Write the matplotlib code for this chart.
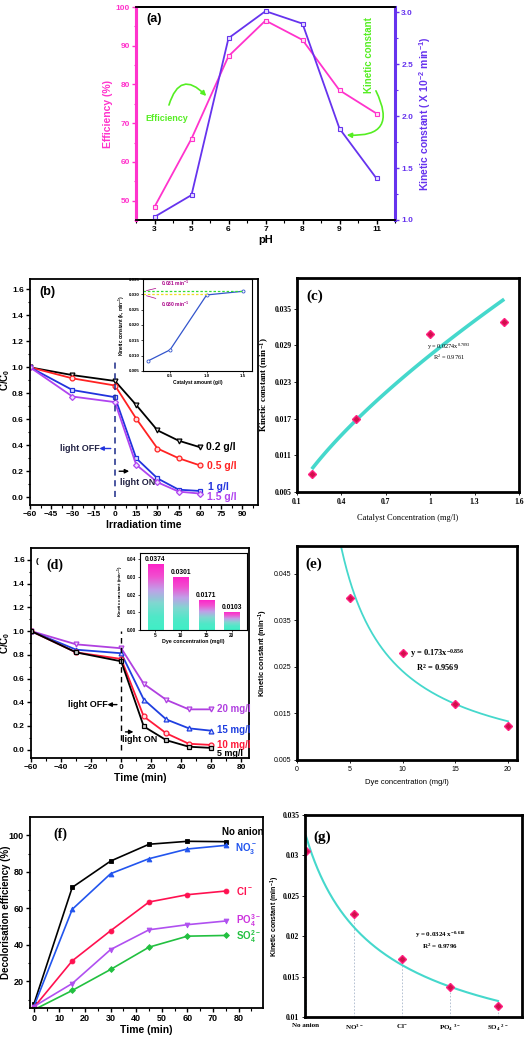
import numpy as np
import matplotlib
matplotlib.use("Agg")
import matplotlib.pyplot as plt
from matplotlib.colors import LinearSegmentedColormap

# ---- data ----
# (a) effect of pH
ph_labels = ["3", "5", "6", "7", "8", "9", "11"]
ph_eff = [48.4, 66.0, 87.3, 96.5, 91.5, 78.5, 72.5]
ph_k = [1.03, 1.24, 2.75, 3.01, 2.89, 1.88, 1.40]

# (b) catalyst amount, C/C0 vs irradiation time
t_b = [-60, -30, 0, 15, 30, 45, 60]
cat_02 = [1.0, 0.94, 0.895, 0.71, 0.515, 0.435, 0.385]
cat_05 = [1.0, 0.915, 0.86, 0.605, 0.375, 0.30, 0.245]
cat_10 = [1.0, 0.825, 0.77, 0.30, 0.145, 0.058, 0.048]
cat_15 = [1.0, 0.775, 0.732, 0.25, 0.115, 0.043, 0.028]
cat_amount = [0.2, 0.5, 1.0, 1.5]
k_cat_inset = [0.0083, 0.0119, 0.0298, 0.031]

# (c) kinetic constant vs catalyst concentration
k_cat = [0.0079, 0.0169, 0.0308, 0.0328]
fit_c = (0.0274, 0.7093)

# (d) dye concentration, C/C0 vs time
t_d = [-60, -30, 0, 15, 30, 45, 60]
dye_20 = [1.0, 0.888, 0.855, 0.555, 0.42, 0.34, 0.34]
dye_15 = [1.0, 0.843, 0.813, 0.423, 0.255, 0.18, 0.16]
dye_10 = [1.0, 0.82, 0.765, 0.28, 0.138, 0.05, 0.04]
dye_5 = [1.0, 0.82, 0.745, 0.196, 0.08, 0.025, 0.015]
dye_conc = [5, 10, 15, 20]
k_dye = [0.0374, 0.0301, 0.0171, 0.0103]

# (e) kinetic constant vs dye concentration
k_dye_e = [0.0399, 0.0279, 0.0171, 0.0124]
fit_e = (0.173, -0.856)

# (f) anions, decolorisation efficiency vs time
t_f = [0, 15, 30, 45, 60, 75]
no_anion = [7.6, 71.5, 85.9, 95.1, 96.7, 96.5]
no3 = [6.3, 59.5, 79.0, 87.2, 92.5, 94.5]
cl = [5.8, 31.3, 47.8, 63.5, 67.5, 69.5]
po4 = [6.3, 18.9, 37.5, 48.3, 51.1, 53.1]
so4 = [4.5, 15.1, 26.6, 38.8, 44.8, 45.2]

# (g) kinetic constant per anion
anion_labels = ["No anion", "NO$^{3-}$", "Cl$^{-}$", "PO$_4$ $^{3-}$", "SO$_4$ $^{2-}$"]
k_anion = [0.0306, 0.0227, 0.0172, 0.0137, 0.0113]
fit_g = (0.0324, -0.618)

W, H = 525, 1039
plt.rcParams["font.family"] = ["Liberation Sans", "DejaVu Sans"]
plt.rcParams["font.weight"] = "bold"
plt.rcParams["axes.labelweight"] = "bold"
plt.rcParams["mathtext.default"] = "regular"

fig = plt.figure(figsize=(W / 100, H / 100), dpi=100)

SERIF = ["Liberation Serif", "DejaVu Serif"]
NARROW = ["Liberation Sans Narrow", "Liberation Sans", "DejaVu Sans"]


def box(l, t, r, b):
    return [l / W, 1 - b / H, (r - l) / W, (b - t) / H]


def origin_style(ax, fs=6.5):
    ax.tick_params(direction="out", length=3, width=1, labelsize=fs, pad=1.5)
    ax.tick_params(which="minor", direction="out", length=1.8, width=0.8)
    for s in ax.spines.values():
        s.set_linewidth(1.3)


def excel_style(ax):
    for s in ax.spines.values():
        s.set_linewidth(2.0)
    ax.tick_params(direction="out", length=2, width=0.6, labelsize=5.5, pad=2)
    for lab in ax.get_xticklabels() + ax.get_yticklabels():
        lab.set_family(SERIF)
        lab.set_fontweight("bold")


# ================= (a) =================
pink = "#FF33CC"
violet = "#6633EE"
axa = fig.add_axes(box(136, 7, 395, 220))
xa = np.arange(len(ph_labels))
axa.plot(xa, ph_eff, color=pink, lw=1.3, marker="s", ms=3.5, mfc="#FFE0F4", mec=pink, mew=0.8)
axa.set_xlim(-0.5, 6.5)
axa.set_ylim(45, 100)
axa.set_xticks(xa)
axa.set_xticklabels(ph_labels)
axa.set_xticks(np.arange(-0.5, 6.6, 0.5), minor=True)
axa.set_yticks([50, 60, 70, 80, 90, 100])
axa.set_yticks(np.arange(45, 101, 5), minor=True)
origin_style(axa, 6)
axa.tick_params(axis="y", colors=pink, which="both")
axa.spines["left"].set_color(pink)
axa.spines["left"].set_linewidth(2.2)
axa.set_ylabel("Efficiency (%)", color=pink, fontsize=7.5, labelpad=2)
axa.set_xlabel("pH", fontsize=8, labelpad=1)
axa.text(0.04, 0.93, "(a)", transform=axa.transAxes, fontsize=9, fontweight="bold")

axa2 = axa.twinx()
axa2.plot(xa, ph_k, color=violet, lw=1.3, marker="s", ms=3.5, mfc="#E6E0FF", mec=violet, mew=0.8)
axa2.set_ylim(1.0, 3.05)
axa2.set_yticks([1.0, 1.5, 2.0, 2.5, 3.0])
axa2.set_yticks(np.arange(1.0, 3.05, 0.25), minor=True)
origin_style(axa2, 6)
axa2.tick_params(axis="y", colors=violet, which="both")
axa2.spines["right"].set_color(violet)
axa2.spines["right"].set_linewidth(2.2)
axa2.spines["left"].set_color(pink)
axa2.spines["left"].set_linewidth(2.2)
axa2.set_ylabel("Kinetic constant ( X 10$^{-2}$ min$^{-1}$)", color=violet, fontsize=7.5, labelpad=3)

green = "#55EE22"
axa.text(0.32, 71.2, "Efficiency", color=green, fontsize=6.5, fontweight="bold", ha="center", va="center")
axa.annotate("", xy=(1.45, 76.5), xytext=(0.37, 74.0),
             arrowprops=dict(arrowstyle="-|>", color=green, lw=1.2, connectionstyle="arc3,rad=-0.9",
                             mutation_scale=7))
axa.text(5.8, 87.5, "Kinetic constant", color=green, fontsize=7, fontweight="bold", rotation=90,
         ha="center", va="center")
axa.annotate("", xy=(5.12, 67.0), xytext=(5.95, 79.0),
             arrowprops=dict(arrowstyle="-|>", color=green, lw=1.2, connectionstyle="arc3,rad=-0.9",
                             mutation_scale=7))

# ================= (b) =================
axb = fig.add_axes(box(30, 279, 258, 505))
blk, red, blu, pur = "black", "#FF2222", "#2233DD", "#B044F0"
mk = dict(ms=3.5, mew=0.9, lw=1.3)
axb.plot(t_b, cat_02, color=blk, marker="v", mfc="#DDDDDD", **mk)
axb.plot(t_b, cat_05, color=red, marker="o", mfc="#FFDDDD", **mk)
axb.plot(t_b, cat_10, color=blu, marker="s", mfc="#DDE0FF", **mk)
axb.plot(t_b, cat_15, color=pur, marker="D", mfc="#EEDDFF", ms=3, mew=0.9, lw=1.3)
axb.set_xlim(-60, 101)
axb.set_ylim(-0.06, 1.68)
axb.set_xticks(np.arange(-60, 91, 15))
axb.set_yticks(np.arange(0, 1.61, 0.2))
axb.set_yticklabels(["%.1f" % v for v in np.arange(0, 1.61, 0.2)])
axb.set_xticks(np.arange(-60, 101, 7.5), minor=True)
axb.set_yticks(np.arange(0, 1.7, 0.1), minor=True)
origin_style(axb, 6)
axb.set_xlabel("Irradiation time", fontsize=7.5, labelpad=1)
axb.set_ylabel("C/C$_0$", fontsize=7)
axb.yaxis.set_label_coords(-0.077, 0.555)
axb.text(0.04, 0.93, "(b)", transform=axb.transAxes, fontsize=9, fontweight="bold")
axb.plot([0, 0], [0, 1.07], color="#1A2A88", lw=1.1, ls=(0, (4, 3)))
axb.text(64, 0.39, "0.2 g/l", color=blk, fontsize=7.5, fontweight="bold", va="center")
axb.text(65, 0.24, "0.5 g/l", color=red, fontsize=7.5, fontweight="bold", va="center")
axb.text(66, 0.08, "1 g/l", color=blu, fontsize=7.5, fontweight="bold", va="center")
axb.text(65, 0.005, "1.5 g/l", color=pur, fontsize=7.5, fontweight="bold", va="center")
axb.text(-25, 0.375, "light OFF", fontsize=6.5, fontweight="bold", ha="center", va="center", color="#222244")
axb.annotate("", xy=(-13, 0.375), xytext=(-1, 0.375),
             arrowprops=dict(arrowstyle="-|>", color=blu, lw=1, mutation_scale=6))
axb.text(16, 0.115, "light ON", fontsize=6.5, fontweight="bold", ha="center", va="center", color="#222244")
axb.annotate("", xy=(12, 0.2), xytext=(1, 0.2),
             arrowprops=dict(arrowstyle="-|>", color=blk, lw=1, mutation_scale=6))

# inset of (b)
axbi = fig.add_axes(box(143, 279, 252, 371))
axbi.plot(cat_amount, k_cat_inset, color="#3355CC", lw=0.9, marker="o", ms=2.2, mfc="white", mew=0.6)
axbi.set_xlim(0.13, 1.62)
axbi.set_ylim(0.005, 0.035)
axbi.set_xticks([0.5, 1.0, 1.5])
axbi.set_yticks(np.arange(0.005, 0.0351, 0.005))
axbi.set_yticklabels(["%.3f" % v for v in np.arange(0.005, 0.0351, 0.005)])
axbi.tick_params(labelsize=3.2, length=1.5, width=0.5, pad=1)
for s in axbi.spines.values():
    s.set_linewidth(0.8)
axbi.set_xlabel("Catalyst amount (g/l)", fontsize=3.6, labelpad=1)
axbi.set_ylabel("Kinetic constant (k, min$^{-1}$)", fontsize=3.4, labelpad=1)
axbi.plot([0.13, 1.5], [0.031, 0.031], color="#33DD33", lw=0.9, ls=(0, (2, 1.5)))
axbi.plot([0.13, 1.0], [0.0302, 0.0302], color="#EEDD22", lw=0.9, ls=(0, (2, 1.5)))
axbi.annotate("0.031 min$^{-1}$", xy=(0.14, 0.031), xytext=(0.38, 0.0335), fontsize=3.6,
              color="#AA0088", va="center",
              arrowprops=dict(arrowstyle="-", color="#AA0088", lw=0.5))
axbi.annotate("0.030 min$^{-1}$", xy=(0.14, 0.0298), xytext=(0.38, 0.0268), fontsize=3.6,
              color="#AA0088", va="center",
              arrowprops=dict(arrowstyle="-", color="#AA0088", lw=0.5))

# ================= (c) =================
cyan = "#45D8CC"
dmd = dict(marker="D", ms=3.8, color="#D0104A", mec="#FF2080", ls="none")
axc = fig.add_axes(box(297, 278, 519, 492))
xc = np.linspace(cat_amount[0], cat_amount[-1], 100)
axc.plot(xc, fit_c[0] * xc ** fit_c[1], color=cyan, lw=2.6, solid_capstyle="butt")
axc.plot(cat_amount, k_cat, **dmd)
axc.set_xlim(0.1, 1.6)
axc.set_ylim(0.005, 0.040)
axc.set_xticks([0.1, 0.4, 0.7, 1.0, 1.3, 1.6])
axc.set_xticklabels(["0.1", "0.4", "0.7", "1", "1.3", "1.6"])
axc.set_yticks(np.arange(0.005, 0.036, 0.006))
axc.set_yticklabels(["%.3f" % v for v in np.arange(0.005, 0.036, 0.006)])
excel_style(axc)
axc.set_xlabel("Catalyst Concentration (mg/l)", fontsize=6, family=SERIF, labelpad=6, fontweight="normal")
axc.set_ylabel("Kinetic constant (min$^{-1}$)", fontsize=6.5, family=SERIF)
axc.yaxis.set_label_coords(-0.115, 0.5)
axc.text(0.04, 0.9, "(c)", transform=axc.transAxes, fontsize=11, fontweight="bold", family=SERIF)
axc.text(1.13, 0.0279, "y = 0.0274x$^{0.7093}$\nR$^2$ = 0.9761", fontsize=4.5, family=SERIF,
         ha="center", va="center", fontweight="normal")

# ================= (d) =================
axd = fig.add_axes(box(31, 548, 249, 758))
c20, c15, c10 = "#B040E0", "#1F3FE0", "#FF1A3A"
axd.plot(t_d, dye_20, color=c20, marker="v", mfc="#F0DDFF", **mk)
axd.plot(t_d, dye_15, color=c15, marker="^", mfc="#DDE0FF", **mk)
axd.plot(t_d, dye_10, color=c10, marker="o", mfc="#FFDDDD", **mk)
axd.plot(t_d, dye_5, color=blk, marker="s", mfc="#CCCCCC", **mk)
axd.set_xlim(-60, 85)
axd.set_ylim(-0.07, 1.7)
axd.set_xticks(np.arange(-60, 81, 20))
axd.set_xticks(np.arange(-60, 85, 10), minor=True)
axd.set_yticks(np.arange(0, 1.61, 0.2))
axd.set_yticklabels(["%.1f" % v for v in np.arange(0, 1.61, 0.2)])
axd.set_yticks(np.arange(0, 1.7, 0.1), minor=True)
origin_style(axd, 6)
axd.set_xlabel("Time (min)", fontsize=7.5, labelpad=1)
axd.set_ylabel("C/C$_0$", fontsize=7)
axd.yaxis.set_label_coords(-0.085, 0.548)
axd.text(0.02, 0.93, "(", transform=axd.transAxes, fontsize=6)
axd.text(0.07, 0.9, "(d)", transform=axd.transAxes, fontsize=10, fontweight="bold", family=SERIF)
axd.plot([0, 0], [0, 1.0], color="black", lw=1.0, ls=(0, (4, 3)))
axd.text(64, 0.34, "20 mg/l", color=c20, fontsize=7, fontweight="bold", va="center")
axd.text(64, 0.165, "15 mg/l", color=c15, fontsize=7, fontweight="bold", va="center")
axd.text(64, 0.04, "10 mg/l", color=c10, fontsize=7, fontweight="bold", va="center")
axd.text(64, -0.035, "5 mg/l", color=blk, fontsize=6.5, fontweight="bold", va="center")
axd.text(-22, 0.38, "light OFF", fontsize=6.5, fontweight="bold", ha="center", va="center")
axd.annotate("", xy=(-11, 0.38), xytext=(-1, 0.38),
             arrowprops=dict(arrowstyle="-|>", color=blk, lw=1, mutation_scale=6))
axd.text(12, 0.09, "light ON", fontsize=6.5, fontweight="bold", ha="center", va="center")
axd.annotate("", xy=(10, 0.15), xytext=(1, 0.15),
             arrowprops=dict(arrowstyle="-|>", color=blk, lw=1, mutation_scale=6))

# inset of (d): gradient bars
axdi = fig.add_axes(box(140, 553, 247, 630))
grad_cmap = LinearSegmentedColormap.from_list(
    "grad", ["#40EFC6", "#50E8C8", "#7FD8D0", "#C0A0E8", "#F050D0", "#FF20C8"])
xd = np.arange(len(dye_conc))
bars = axdi.bar(xd, k_dye, width=0.6, color="none", edgecolor="#999999", lw=0.4)
grad = np.linspace(0, 1, 100).reshape(-1, 1)
for b in bars:
    x0, w, h = b.get_x(), b.get_width(), b.get_height()
    im = axdi.imshow(grad, extent=[x0, x0 + w, 0, h], origin="lower", aspect="auto", cmap=grad_cmap,
                     zorder=1)
    im.set_clip_path(b)
for xi, v in zip(xd, k_dye):
    axdi.text(xi, v + 0.0006, "%.4f" % v, ha="center", va="bottom", fontsize=4.8, fontweight="bold")
axdi.set_xlim(-0.6, 3.6)
axdi.set_ylim(0, 0.0435)
axdi.set_xticks(xd)
axdi.set_xticklabels([str(c) for c in dye_conc])
axdi.set_yticks([0, 0.01, 0.02, 0.03, 0.04])
axdi.set_yticklabels(["0.00", "0.01", "0.02", "0.03", "0.04"])
axdi.tick_params(labelsize=3.4, length=1.5, width=0.5, pad=1)
for s in axdi.spines.values():
    s.set_linewidth(0.8)
axdi.set_xlabel("Dye concentration (mg/l)", fontsize=3.8, labelpad=0.5)
axdi.set_ylabel("Kinetic constant (min$^{-1}$)", fontsize=3.2, labelpad=1)

# ================= (e) =================
axe = fig.add_axes(box(297, 546, 517, 760))
xe = np.linspace(4.0, 20, 200)
axe.plot(xe, fit_e[0] * xe ** fit_e[1], color=cyan, lw=1.3)
axe.plot(dye_conc, k_dye_e, **dmd)
axe.set_xlim(0, 20.85)
axe.set_ylim(0.005, 0.051)
axe.set_xticks([0, 5, 10, 15, 20])
axe.set_yticks([0.005, 0.015, 0.025, 0.035, 0.045])
axe.set_yticklabels(["0.005", "0.015", "0.025", "0.035", "0.045"])
excel_style(axe)
for lab in axe.get_xticklabels() + axe.get_yticklabels():
    lab.set_family(NARROW)
    lab.set_fontweight("normal")
axe.tick_params(labelsize=5)
axe.set_xlabel("Dye concentration (mg/l)", fontsize=5.5, family=NARROW, fontweight="normal", labelpad=5)
axe.set_ylabel("Kinetic constant (min$^{-1}$)", fontsize=5.5)
axe.yaxis.set_label_coords(-0.125, 0.5)
axe.text(0.04, 0.9, "(e)", transform=axe.transAxes, fontsize=11, fontweight="bold", family=SERIF)
axe.text(13.3, 0.0265, "y = 0.173x$^{-0.856}$\nR$^2$ = 0.9569", fontsize=6, family=SERIF,
         ha="center", va="center", fontweight="bold")

# ================= (f) =================
axf = fig.add_axes(box(30, 817, 263, 1008))
mkf = dict(ms=3.5, mew=0.6, lw=1.2)
axf.plot(t_f, no_anion, color="black", marker="s", **mkf)
axf.plot(t_f, no3, color="#2255EE", marker="^", **mkf)
axf.plot(t_f, cl, color="#FF1050", marker="o", **mkf)
axf.plot(t_f, po4, color="#B050F0", marker="v", **mkf)
axf.plot(t_f, so4, color="#22C040", marker="D", ms=3, mew=0.6, lw=1.2)
axf.set_xlim(-1.5, 89.5)
axf.set_ylim(5.5, 110)
axf.set_xticks(np.arange(0, 81, 10))
axf.set_xticks(np.arange(0, 86, 5), minor=True)
axf.set_yticks([20, 40, 60, 80, 100])
axf.set_yticks(np.arange(10, 110, 10), minor=True)
origin_style(axf)
axf.set_xlabel("Time (min)", fontsize=7.5, labelpad=1)
axf.set_ylabel("Decolorisation efficiency (%)", fontsize=7)
axf.yaxis.set_label_coords(-0.082, 0.5)
axf.text(0.1, 0.89, "(f)", transform=axf.transAxes, fontsize=10, fontweight="bold", family=SERIF)
axf.text(73.5, 101.8, "No anion", color="black", fontsize=7, fontweight="bold", va="center")
axf.text(78.6, 92.5, "NO$_3^-$", color="#2255EE", fontsize=7, fontweight="bold", va="center")
axf.text(79.0, 69.7, "Cl$^-$", color="#FF1050", fontsize=7, fontweight="bold", va="center")
axf.text(79.0, 53.2, "PO$_4^{3-}$", color="#CC33DD", fontsize=7, fontweight="bold", va="center")
axf.text(79.0, 44.3, "SO$_4^{2-}$", color="#22C040", fontsize=7, fontweight="bold", va="center")

# ================= (g) =================
axg = fig.add_axes(box(305, 815, 522, 1017))
xg_pos = np.arange(1, len(anion_labels) + 1)
xg = np.linspace(1, 5, 200)
for xi, v in zip(xg_pos, k_anion):
    axg.plot([xi, xi], [0.01, v], color="#AAB8CC", lw=0.6, ls=(0, (2, 2)))
axg.plot(xg, fit_g[0] * xg ** fit_g[1], color=cyan, lw=1.5)
axg.plot(xg_pos, k_anion, **dmd)
axg.set_xlim(0.98, 5.5)
axg.set_ylim(0.01, 0.035)
axg.set_xticks(xg_pos)
axg.set_xticklabels(anion_labels)
axg.set_yticks([0.01, 0.015, 0.02, 0.025, 0.03, 0.035])
axg.set_yticklabels(["0.01", "0.015", "0.02", "0.025", "0.03", "0.035"])
excel_style(axg)
axg.tick_params(axis="x", length=0, labelsize=5, pad=4)
axg.set_ylabel("Kinetic constant (min$^{-1}$)", fontsize=5)
axg.yaxis.set_label_coords(-0.105, 0.5)
axg.text(0.04, 0.87, "(g)", transform=axg.transAxes, fontsize=11, fontweight="bold", family=SERIF)
axg.text(3.8, 0.0195, "y = 0.0324 x$^{-0.618}$\nR$^2$ = 0.9796", fontsize=5, family=SERIF,
         ha="center", va="center")

fig.savefig("out.png", dpi=100)
